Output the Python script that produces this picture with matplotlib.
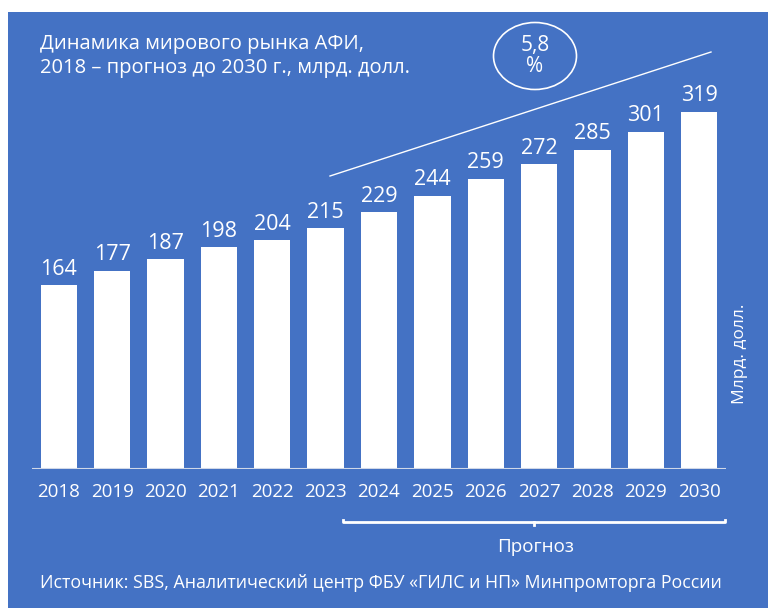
import matplotlib.pyplot as plt
from matplotlib.patches import Rectangle, Ellipse
from matplotlib.lines import Line2D

plt.rcParams['font.family'] = ['Open Sans', 'DejaVu Sans']

# Data
years = ['2018', '2019', '2020', '2021', '2022', '2023', '2024',
         '2025', '2026', '2027', '2028', '2029', '2030']
values = [164, 177, 187, 198, 204, 215, 229, 244, 259, 272, 285, 301, 319]

title = "Динамика мирового рынка АФИ,\n2018 – прогноз до 2030 г., млрд. долл."
cagr = "5,8\n%"
forecast_label = "Прогноз"
y_label = "Млрд. долл."
source = "Источник: SBS, Аналитический центр ФБУ «ГИЛС и НП» Минпромторга России"

blue = '#4472C4'
W, H = 768, 608

fig = plt.figure(figsize=(W / 100, H / 100), dpi=100)
fig.patch.set_facecolor('white')

def fx(px):
    return px / W

def fy(py):
    return 1 - py / H

# blue panel
fig.patches.append(Rectangle((fx(8), 0), 1 - fx(8), fy(12), transform=fig.transFigure,
                             facecolor=blue, edgecolor='none', zorder=-5))

# bar axes
ax = fig.add_axes([fx(32), fy(469), fx(726) - fx(32), (469 - 88) / H])
ax.set_zorder(2)
ax.set_facecolor('none')
x = range(len(years))
ax.bar(x, values, width=0.68, color='white', zorder=2)
for xi, v in zip(x, values):
    ax.annotate(str(v), (xi, v), xytext=(0, 4), textcoords='offset points',
                ha='center', va='bottom', color='white', fontsize=15.5)
ax.set_xlim(-0.5, 12.5)
ax.set_ylim(0, 340)
ax.axhline(0, color='#d0d8e8', lw=1.5, zorder=3)
ax.set_xticks(list(x))
ax.set_xticklabels(years, color='white', fontsize=13.5)
ax.tick_params(axis='x', length=0, pad=10)
ax.set_yticks([])
for s in ax.spines.values():
    s.set_visible(False)

# title
fig.text(fx(40), fy(56), title, ha='left', va='center', color='white',
         fontsize=14.5, linespacing=1.3)

# growth ellipse and trend line
fig.patches.append(Ellipse((fx(535), fy(56)), fx(83), 67 / H, transform=fig.transFigure,
                           facecolor='none', edgecolor='white', lw=1.2))
fig.text(fx(535), fy(56), cagr, ha='center', va='center', color='white',
         fontsize=15, linespacing=1.05)
fig.lines.append(Line2D([fx(330), fx(711)], [fy(176), fy(52)], transform=fig.transFigure,
                        color='white', lw=1))

# forecast bracket
fig.lines.append(Line2D([fx(343), fx(343), fx(725), fx(725)], [fy(520), fy(522), fy(522), fy(520)],
                        transform=fig.transFigure, color='white', lw=2))
fig.lines.append(Line2D([fx(534), fx(534)], [fy(522), fy(525)], transform=fig.transFigure,
                        color='white', lw=2))
fig.text(fx(536), fy(547), forecast_label, ha='center', va='center', color='white', fontsize=13.5)

# axis unit label
fig.text(fx(740), fy(354), y_label, ha='center', va='center', rotation=90,
         color='white', fontsize=12.5)

# source
fig.text(fx(40), fy(583), source, ha='left', va='center', color='white', fontsize=12.8)

fig.savefig('out.png', dpi=100)
